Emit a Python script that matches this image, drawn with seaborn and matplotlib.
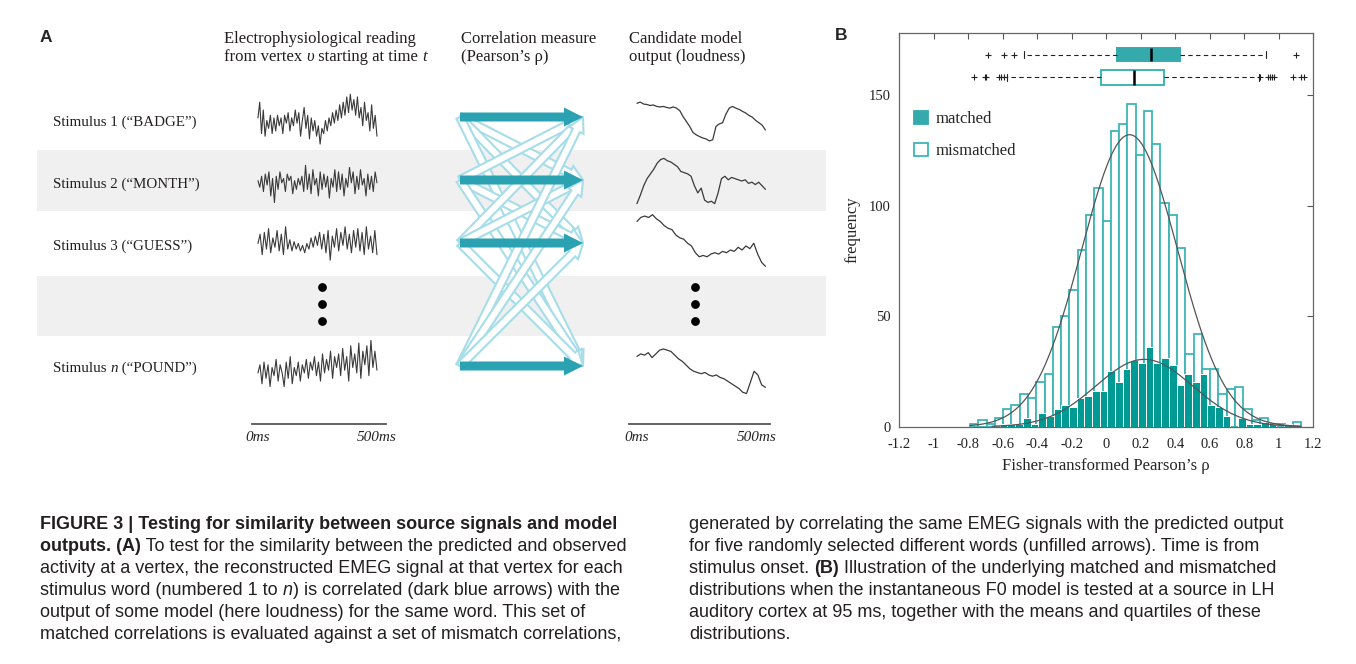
import numpy as np
import pandas as pd
import matplotlib
matplotlib.use("Agg")
import matplotlib.pyplot as plt
from matplotlib.patches import FancyArrow, Rectangle, Patch
import seaborn as sns

# ------------------------------------------------------------------ data
stimulus_labels = [("Stimulus 1 (\u201cBADGE\u201d)", None),
                   ("Stimulus 2 (\u201cMONTH\u201d)", None),
                   ("Stimulus 3 (\u201cGUESS\u201d)", None),
                   ("Stimulus ", "n", " (\u201cPOUND\u201d)")]

# histogram counts (40 equal bins over each range)
mismatched_counts = [1, 3, 1, 4, 8, 10, 15, 13, 20, 24, 45, 50, 62, 80, 96,
                     108, 93, 134, 137, 146, 123, 143, 128, 101, 96, 81, 33,
                     42, 26, 26, 15, 17, 18, 8, 3, 4, 1, 1, 0, 2]
matched_counts = [0, 1, 1, 1, 4, 1, 6, 5, 8, 10, 9, 13, 14, 16, 16, 25, 20,
                  26, 30, 29, 36, 29, 31, 28, 19, 24, 20, 24, 10, 9, 5, 0, 4,
                  1, 1, 2, 1, 0, 1, 0]
mismatched_range = (-0.79, 1.13)
matched_range = (-0.662, 1.120)
mismatched_fit = (0.135, 0.278)   # mean, sd of fitted normal
matched_fit = (0.22, 0.28)

matched_box = dict(whislo=-0.479, q1=0.062, med=0.259, q3=0.425, whishi=0.928,
                   fliers=[-0.688, -0.591, -0.537, 1.101])
mismatched_box = dict(whislo=-0.576, q1=-0.029, med=0.162, q3=0.336, whishi=0.883,
                      fliers=[-0.769, -0.705, -0.700, -0.624, -0.611, -0.595,
                              0.893, 0.935, 0.951, 0.962, 0.970, 1.085, 1.128, 1.148])

xtick_values = [-1.2, -1.0, -0.8, -0.6, -0.4, -0.2, 0.0, 0.2, 0.4, 0.6, 0.8, 1.0, 1.2]
xtick_labels = ["-1.2", "-1", "-0.8", "-0.6", "-0.4", "-0.2", "0", "0.2", "0.4",
                "0.6", "0.8", "1", "1.2"]
ytick_values = [0, 50, 100, 150]

# electrophysiological traces (arbitrary units, 0..500 ms)
eeg_badge = [0.1, 0.7, -0.5, 0.4, -0.6, 0.0, -0.3, 0.2, -0.5, 0.1, -0.4, 0.2, -0.2,
             0.1, -0.5, 0.2, -0.1, 0.3, -0.4, 0.1, -0.2, 0.4, -0.1, 0.3, -0.6, 0.0,
             0.5, -0.3, 0.2, -0.7, 0.1, -0.4, 0.0, -0.6, -0.2, -0.9, -0.3, -0.5, 0.0,
             -0.4, 0.1, -0.2, 0.3, -0.1, 0.4, 0.0, 0.6, 0.1, 0.7, 0.2, 0.9, 0.3, 1.0,
             0.4, 0.8, 0.2, 0.9, 0.1, 0.5, -0.2, 0.7, 0.0, 0.3, -0.4, 0.6, -0.3, 0.2, -0.6]
eeg_month = [0.2, -0.1, 0.4, -0.3, 0.5, 0.0, 0.6, -0.5, 0.3, -0.8, 0.4, -0.2, 0.6,
             0.1, 0.3, -0.3, 0.5, 0.2, 0.4, -0.4, 0.2, -0.2, 0.3, 0.0, 0.4, -0.3, 0.9,
             -0.2, 0.5, -0.4, 0.7, 0.0, 0.3, -0.5, 0.6, -0.2, 0.5, -0.1, 0.4, -0.6, 0.3,
             -0.1, 0.7, -0.3, 0.6, -0.2, 0.5, -0.5, 0.3, -0.1, 0.8, 0.1, 0.6, -0.4, 0.4,
             -0.2, 0.7, 0.0, 0.3, -0.5, 0.5, -0.2, 0.4, -0.3, 0.6, 0.1]
eeg_guess = [0.0, 0.5, -0.6, 0.6, -0.3, 0.8, -0.5, 0.3, -0.2, 0.7, -0.4, 0.5, -0.6,
             0.9, -0.3, 0.2, -0.4, 0.1, -0.3, 0.0, -0.4, -0.1, -0.5, 0.0, -0.3, 0.3,
             -0.2, 0.4, -0.1, 0.6, -0.3, 0.5, -0.5, 0.7, -0.9, 0.4, -0.2, 0.8, -0.4,
             0.6, -0.1, 0.9, -0.3, 0.5, -0.5, 0.7, -0.2, 0.8, -0.4, 0.6, -0.6, 0.9,
             -0.3, 0.4, -0.5, 0.7, -0.6]
eeg_pound = [-0.2, 0.1, -0.6, 0.2, -0.4, 0.1, -0.7, 0.0, -0.3, 0.3, -0.5, 0.1, -0.2,
             -0.7, 0.2, -0.4, 0.4, -0.6, 0.0, -0.3, 0.2, -0.5, 0.1, -0.2, 0.3, -0.4,
             0.2, -0.1, 0.4, -0.3, 0.2, -0.5, 0.5, -0.2, 0.3, -0.1, 0.6, -0.4, 0.4,
             0.0, 0.5, -0.3, 0.7, -0.1, 0.4, -0.5, 0.8, 0.0, 0.5, -0.2, 0.9, -0.4, 0.6,
             0.1, 0.8, -0.3, 1.0, 0.0, 0.6, -0.1]

# candidate model output (loudness)
loud_badge = [0.75, 0.8, 0.72, 0.7, 0.66, 0.68, 0.62, 0.6, 0.62, 0.58, 0.55, 0.6,
              0.55, 0.45, 0.2, 0.0, -0.2, -0.45, -0.55, -0.62, -0.68, -0.72, -0.8,
              -0.75, -0.2, -0.1, -0.05, 0.3, 0.55, 0.62, 0.55, 0.5, 0.42, 0.35, 0.25,
              0.18, 0.05, -0.05, -0.15, -0.35]
loud_month = [-0.95, -0.6, -0.2, 0.1, 0.3, 0.5, 0.75, 0.9, 0.95, 0.85, 0.8, 0.7,
              0.6, 0.4, 0.35, 0.3, 0.2, -0.2, -0.5, -0.3, -0.8, -0.9, -0.85, -0.95,
              -0.5, 0.1, 0.2, 0.05, 0.15, 0.1, 0.05, 0.0, 0.05, -0.1, -0.05, -0.15,
              -0.05, -0.2, -0.35]
loud_guess = [0.7, 0.85, 0.9, 0.85, 0.95, 0.8, 0.7, 0.55, 0.45, 0.4, 0.2, 0.1, 0.05,
              -0.1, -0.2, -0.45, -0.6, -0.55, -0.6, -0.5, -0.45, -0.5, -0.4, -0.45,
              -0.35, -0.4, -0.25, -0.35, -0.2, -0.3, -0.1, -0.5, -0.8, -0.95]
loud_pound = [0.55, 0.65, 0.6, 0.7, 0.5, 0.65, 0.8, 0.85, 0.8, 0.75, 0.6, 0.45, 0.35,
              0.2, 0.05, -0.05, -0.1, -0.15, -0.1, -0.2, -0.25, -0.2, -0.3, -0.35,
              -0.45, -0.55, -0.65, -0.75, -0.9, -0.95, -0.5, -0.05, -0.2, -0.6, -0.7]

caption_left = [
    [("FIGURE 3 | Testing for similarity between source signals and model", "bold")],
    [("outputs. (A)", "bold"), (" To test for the similarity between the predicted and observed", "normal")],
    [("activity at a vertex, the reconstructed EMEG signal at that vertex for each", "normal")],
    [("stimulus word (numbered 1 to ", "normal"), ("n", "italic"), (") is correlated (dark blue arrows) with the", "normal")],
    [("output of some model (here loudness) for the same word. This set of", "normal")],
    [("matched correlations is evaluated against a set of mismatch correlations,", "normal")],
]
caption_right = [
    [("generated by correlating the same EMEG signals with the predicted output", "normal")],
    [("for five randomly selected different words (unfilled arrows). Time is from", "normal")],
    [("stimulus onset. ", "normal"), ("(B)", "bold"), (" Illustration of the underlying matched and mismatched", "normal")],
    [("distributions when the instantaneous F0 model is tested at a source in LH", "normal")],
    [("auditory cortex at 95 ms, together with the means and quartiles of these", "normal")],
    [("distributions.", "normal")],
]

# ------------------------------------------------------------------ style
sns.set_style("white")
plt.rcParams["font.family"] = ["Liberation Serif", "DejaVu Serif"]
SANS = ["Liberation Sans", "DejaVu Sans"]
SERIF = ["Liberation Serif", "DejaVu Serif"]

C_MATCH = "#009a95"
C_MATCH_BOX = "#34aaad"
C_MIS = "#3db6b8"
C_ARROW = "#2aa2b2"
C_ARROW_LIGHT = "#a6dde9"
C_BAND = "#f0f0f0"
C_TRACE = "#3a3a3a"

W, H = 1356, 664
fig = plt.figure(figsize=(W / 100, H / 100), dpi=100)


def px_box(x0, y0, x1, y1):
    return [x0 / W, 1 - y1 / H, (x1 - x0) / W, (y1 - y0) / H]


ov = fig.add_axes([0, 0, 1, 1])
ov.set_xlim(0, W)
ov.set_ylim(H, 0)
ov.axis("off")


def rich(ax, x, y, parts, size, family):
    """Write styled pieces one after another on a common baseline y."""
    t = None
    for s, style in parts:
        kw = dict(fontsize=size, family=family, color="#231f20")
        if style == "bold":
            kw["weight"] = "bold"
        elif style == "italic":
            kw["style"] = "italic"
        if t is None:
            t = ax.text(x, y, s, ha="left", va="baseline", **kw)
        else:
            t = ax.annotate(s, xy=(1, y), xycoords=(t, "data"), ha="left",
                            va="baseline", **kw)
    return t


# ------------------------------------------------------------------ panel A
row_y = [117, 180, 243, 366]
label_base = [126, 188, 250, 372]

ov.add_patch(Rectangle((37, 150), 789, 61, color=C_BAND, lw=0, zorder=0))
ov.add_patch(Rectangle((37, 276), 789, 60, color=C_BAND, lw=0, zorder=0))

ov.text(40, 37, "A", family=SANS, weight="bold", fontsize=12.5, va="center", ha="left")
ov.text(835, 35, "B", family=SANS, weight="bold", fontsize=12.5, va="center", ha="left")

HS = 12
rich(ov, 224, 43, [("Electrophysiological reading", "normal")], HS, SERIF)
rich(ov, 224, 61, [("from vertex ", "normal"), ("\u03c5", "italic"),
                   (" starting at time ", "normal"), ("t", "italic")], HS, SERIF)
rich(ov, 461, 43, [("Correlation measure", "normal")], HS, SERIF)
rich(ov, 461, 61, [("(Pearson\u2019s \u03c1)", "normal")], HS, SERIF)
rich(ov, 629, 43, [("Candidate model", "normal")], HS, SERIF)
rich(ov, 629, 61, [("output (loudness)", "normal")], HS, SERIF)

for lab, ly in zip(stimulus_labels, label_base):
    if lab[1] is None:
        rich(ov, 53, ly, [(lab[0], "normal")], 10.8, SERIF)
    else:
        rich(ov, 53, ly, [(lab[0], "normal"), (lab[1], "italic"), (lab[2], "normal")], 10.8, SERIF)

# arrows: unfilled (mismatched pairs) then filled (matched)
for i, yi in enumerate(row_y):
    for j, yj in enumerate(row_y):
        if i != j:
            ov.add_patch(FancyArrow(460, yi, 123, yj - yi, width=8, head_width=16,
                                    head_length=15, length_includes_head=True,
                                    fc="white", ec=C_ARROW_LIGHT, lw=1.5, zorder=2))
for yi in row_y:
    ov.add_patch(FancyArrow(460, yi, 123, 0, width=9, head_width=19, head_length=19,
                            length_includes_head=True, fc=C_ARROW, ec="none", zorder=3))

# ellipsis dots
for xd in (322, 695):
    ov.scatter([xd] * 3, [287, 304, 321], s=28, color="black", zorder=3)

# traces
eeg_list = [eeg_badge, eeg_month, eeg_guess, eeg_pound]
eeg_boxes = [(93, 148), (162, 208), (224, 263), (339, 396)]
loud_list = [loud_badge, loud_month, loud_guess, loud_pound]
loud_boxes = [(96, 147), (156, 206), (212, 269), (344, 396)]

for vals, (y0, y1) in zip(eeg_list, eeg_boxes):
    a = fig.add_axes(px_box(252, y0, 386, y1))
    df = pd.DataFrame({"t": np.linspace(0, 500, len(vals)), "v": vals})
    sns.lineplot(data=df, x="t", y="v", ax=a, color=C_TRACE, lw=0.8)
    a.set_xlim(-25, 538)
    a.set_ylim(-1.05, 1.05)
    a.axis("off")

for vals, (y0, y1) in zip(loud_list, loud_boxes):
    a = fig.add_axes(px_box(629, y0, 770, y1))
    df = pd.DataFrame({"t": np.linspace(0, 535, len(vals)), "v": vals})
    sns.lineplot(data=df, x="t", y="v", ax=a, color=C_TRACE, lw=0.9)
    a.set_xlim(-33, 554)
    a.set_ylim(-1.05, 1.05)
    a.axis("off")

# time rulers
for (x0, x1, xl) in [(252, 386, (-25, 538)), (629, 770, (-33, 554))]:
    r = fig.add_axes(px_box(x0, 400, x1, 424))
    r.set_xlim(*xl)
    r.set_ylim(0, 1)
    for s in ("top", "left", "right"):
        r.spines[s].set_visible(False)
    r.spines["bottom"].set_color("#555555")
    r.spines["bottom"].set_linewidth(1.3)
    r.set_yticks([])
    r.set_xticks([0, 250, 500], ["0ms", "", "500ms"])
    r.tick_params(axis="x", direction="in", length=5, width=1, color="#555555",
                  pad=5, labelsize=11)
    for tl in r.get_xticklabels():
        tl.set_style("italic")
    r.patch.set_alpha(0)

# ------------------------------------------------------------------ panel B
ax = fig.add_axes(px_box(899.3, 33.3, 1313.3, 426.7))

mis_edges = list(np.linspace(mismatched_range[0], mismatched_range[1], len(mismatched_counts) + 1))
mat_edges = list(np.linspace(matched_range[0], matched_range[1], len(matched_counts) + 1))
mis_c = [(a + b) / 2 for a, b in zip(mis_edges[:-1], mis_edges[1:])]
mat_c = [(a + b) / 2 for a, b in zip(mat_edges[:-1], mat_edges[1:])]
mis_df = pd.DataFrame({"rho": mis_c, "n": mismatched_counts})
mat_df = pd.DataFrame({"rho": mat_c, "n": matched_counts})

sns.histplot(data=mis_df, x="rho", weights="n", bins=mis_edges, ax=ax, fill=True,
             color="white", edgecolor=C_MIS, linewidth=1.3, alpha=1, zorder=2)
sns.histplot(data=mat_df, x="rho", weights="n", bins=mat_edges, ax=ax, fill=True,
             color=C_MATCH, edgecolor="white", linewidth=0.7, alpha=1, zorder=3)


def normal_curve(edges, counts, mu, sd):
    xs = np.linspace(edges[0], edges[-1], 300)
    bw = edges[1] - edges[0]
    ys = np.sum(counts) * bw * np.exp(-0.5 * ((xs - mu) / sd) ** 2) / (sd * np.sqrt(2 * np.pi))
    return pd.DataFrame({"x": xs, "y": ys})


for edges, counts, (mu, sd) in [(mis_edges, mismatched_counts, mismatched_fit),
                                (mat_edges, matched_counts, matched_fit)]:
    cdf = normal_curve(edges, counts, mu, sd)
    sns.lineplot(data=cdf, x="x", y="y", ax=ax, color="#555555", lw=0.9, zorder=4)

flier = dict(marker="+", markeredgecolor="#222222", markersize=4.5, markeredgewidth=0.8,
             linestyle="none")
whisk = dict(color="#222222", lw=0.8, linestyle=(0, (4, 3)))
capp = dict(color="#222222", lw=0.8)
medp = dict(color="black", lw=1.8)


def draw_box(stats, pos, width, fc, ec):
    kw = dict(positions=[pos], widths=[width], patch_artist=True, showfliers=True,
              boxprops=dict(facecolor=fc, edgecolor=ec, lw=1.4),
              whiskerprops=whisk, capprops=capp, medianprops=medp, flierprops=flier,
              capwidths=[3], manage_ticks=False)
    st = dict(stats)
    try:
        ax.bxp([st], orientation="horizontal", **kw)
    except TypeError:
        ax.bxp([st], vert=False, **kw)


draw_box(matched_box, 168.3, 5.7, C_MATCH_BOX, C_MATCH_BOX)
draw_box(mismatched_box, 158.1, 6.6, "white", C_MIS)

ax.set_xlim(-1.2, 1.2)
ax.set_ylim(0, 178)
ax.set_xticks(xtick_values, xtick_labels)
ax.set_yticks(ytick_values, [str(v) for v in ytick_values])
ax.tick_params(direction="in", top=True, right=True, length=4, width=0.8,
               color="#555555", labelsize=10.5, labelcolor="#222222")
ax.tick_params(axis="x", pad=8)
ax.tick_params(axis="y", pad=6)
for s in ax.spines.values():
    s.set_visible(True)
    s.set_color("#666666")
    s.set_linewidth(0.9)
ax.set_xlabel("Fisher-transformed Pearson\u2019s \u03c1", fontsize=12, labelpad=5)
ax.set_ylabel("frequency", fontsize=12, labelpad=6)

handles = [Patch(facecolor=C_MATCH_BOX, edgecolor=C_MATCH_BOX, lw=1.3, label="matched"),
           Patch(facecolor="white", edgecolor=C_MIS, lw=1.3, label="mismatched")]
ax.legend(handles=handles, loc="upper left", bbox_to_anchor=(0.0, 0.84), frameon=False,
          handlelength=0.8, handleheight=0.8, labelspacing=0.95, handletextpad=0.5,
          fontsize=12)

# ------------------------------------------------------------------ caption
line_base = [529, 551, 573, 595, 617, 639]
for parts, yy in zip(caption_left, line_base):
    rich(ov, 40, yy, parts, 13, SANS)
for parts, yy in zip(caption_right, line_base):
    rich(ov, 689, yy, parts, 13, SANS)

fig.savefig("out.png", dpi=100)
